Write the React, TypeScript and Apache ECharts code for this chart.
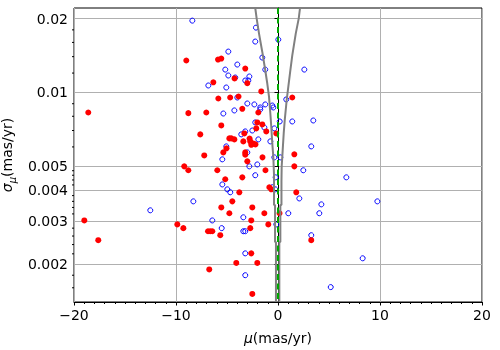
import { useEffect, useRef } from 'react';
import * as echarts from 'echarts';

const FONT = 'DejaVu Sans';

const xRange = [-20, 20];
const xTickStep = 10;
const yRange = [0.0014, 0.0221];
const yTickValues = [0.002, 0.003, 0.004, 0.005, 0.01, 0.02];
const yMinorTickValues = [0.0016, 0.0018, 0.0022, 0.0024, 0.0026, 0.0028, 0.0032, 0.0034, 0.0036, 0.0038, 0.0042, 0.0044, 0.0046, 0.0048, 0.006, 0.007, 0.008, 0.009, 0.012, 0.014, 0.016, 0.018];

const redMu = [-18.6, -8.99, -5.88, -5.56, -3.21, -6.34, -4.26, -3.01, -1.64, -5.85, -4.69, -3.87, 1.40, -3.50, -8.79, -7.03, -1.93, -2.03, -1.54, -2.13, -1.15, -0.17, -5.56, -7.62, -4.77, -4.58, -4.28, -3.30, -3.40, -2.79, -2.72, -2.40, -2.21, -2.62, -5.05, -5.36, -7.23, -3.21, -3.21, -1.52, 1.60, -3.01, -9.19, -8.79, -5.95, -1.23, 1.60, -3.50, -5.17, -3.79, 1.79, -0.85, -0.66, -4.48, -5.56, -2.52, -4.77, -1.34, 0.15, -2.62, -0.95, -9.28, -9.87, -6.86, -6.64, -6.44, -5.66, -2.72, 3.26, -18.99, -17.62, -2.62, -4.09, -2.03, -6.74, -2.52];
const redSigma = [0.00829, 0.0135, 0.01362, 0.01375, 0.01252, 0.0110, 0.01141, 0.01091, 0.0101, 0.00945, 0.00954, 0.00963, 0.00954, 0.00858, 0.00824, 0.00829, 0.00829, 0.00755, 0.00741, 0.00714, 0.00694, 0.00681, 0.00734, 0.00675, 0.0065, 0.0065, 0.00644, 0.00681, 0.00632, 0.00649, 0.00632, 0.00619, 0.00614, 0.00612, 0.00592, 0.0057, 0.00554, 0.0057, 0.00558, 0.00544, 0.0056, 0.00524, 0.0050, 0.00482, 0.00482, 0.00482, 0.0050, 0.00451, 0.00443, 0.00392, 0.00392, 0.00411, 0.00403, 0.0036, 0.0034, 0.0034, 0.00322, 0.00322, 0.00322, 0.00301, 0.0029, 0.0028, 0.0029, 0.00272, 0.00272, 0.00272, 0.00262, 0.0028, 0.0025, 0.00301, 0.0025, 0.00221, 0.00202, 0.00202, 0.0019, 0.00151];

const blueMu = [-8.40, -2.16, 0.03, -2.23, -4.87, -1.54, -3.99, -5.17, -1.25, 2.58, -4.87, -4.19, -2.81, -3.21, -2.91, -6.83, -5.07, -3.99, 0.81, -3.01, -2.32, -1.74, -1.74, -1.25, -0.56, -0.46, -5.36, -4.28, 0.17, 1.40, 3.46, -2.23, -2.52, -1.34, -0.36, -3.21, -3.60, -1.93, -0.75, -5.07, -5.46, -3.01, -0.36, 0.23, 3.26, -2.81, -2.03, 2.48, -2.23, -0.23, 6.70, -5.46, -4.97, -4.68, -0.56, -0.26, 2.09, 4.25, 9.74, -8.30, -3.40, -6.44, 1.01, 4.05, -5.52, -3.40, -3.21, 3.26, -3.21, 8.30, -3.21, 5.17, -12.52, -0.17];
const blueSigma = [0.01963, 0.01838, 0.01643, 0.01613, 0.01468, 0.01388, 0.0130, 0.0124, 0.0124, 0.0124, 0.01173, 0.01151, 0.01162, 0.01119, 0.01119, 0.01068, 0.01048, 0.00954, 0.00937, 0.00902, 0.00894, 0.00869, 0.00853, 0.00894, 0.00885, 0.00869, 0.00821, 0.00845, 0.00762, 0.00762, 0.00769, 0.00755, 0.0070, 0.0072, 0.00714, 0.00694, 0.00675, 0.00644, 0.00632, 0.00603, 0.00534, 0.0057, 0.00544, 0.00544, 0.00603, 0.0050, 0.00509, 0.00482, 0.0046, 0.00451, 0.00451, 0.00422, 0.00403, 0.00392, 0.00411, 0.00403, 0.0037, 0.0035, 0.0036, 0.0036, 0.0031, 0.00301, 0.00322, 0.00322, 0.0028, 0.00272, 0.00272, 0.00262, 0.00221, 0.00211, 0.0018, 0.00161, 0.00331, 0.0029];

const leftCurveMu = [-2.23, -2.09, -1.86, -1.54, -1.25, -1.05, -0.88, -0.75, -0.66, -0.56, -0.46, -0.39, -0.39, -0.29, -0.29, -0.20, -0.20];
const leftCurveSigma = [0.0221, 0.02, 0.01738, 0.01463, 0.01232, 0.01088, 0.0096, 0.00821, 0.00725, 0.0062, 0.00547, 0.00461, 0.00348, 0.00348, 0.00246, 0.00246, 0.0014];
const rightCurveMu = [2.16, 2.03, 1.74, 1.40, 1.21, 1.01, 0.85, 0.66, 0.56, 0.46, 0.36, 0.34, 0.34, 0.23, 0.23, 0.13, 0.13];
const rightCurveSigma = [0.0221, 0.02, 0.01738, 0.01418, 0.01232, 0.01054, 0.0093, 0.00771, 0.00681, 0.00582, 0.00498, 0.00432, 0.00348, 0.00348, 0.00246, 0.00246, 0.0014];

const refMu = 0;

const lg = (v: number) => Math.log10(v);
const pairs = (xs: number[], ys: number[]) => xs.map((x, i) => [x, lg(ys[i])]);

export default function App() {
  const ref = useRef<HTMLDivElement>(null);
  useEffect(() => {
    if (!ref.current) return;
    const chart = echarts.init(ref.current, undefined, { renderer: 'svg' });
    const tickFmt = (v: number) => {
      let best = yTickValues[0];
      for (const t of yTickValues) if (Math.abs(lg(t) - v) < Math.abs(lg(best) - v)) best = t;
      return String(best);
    };
    chart.setOption({
      animation: false,
      grid: { left: 74, right: 18, top: 8, bottom: 48, show: true, borderColor: '#000', borderWidth: 1, backgroundColor: 'transparent', outerBoundsMode: 'none', containLabel: false },
      xAxis: {
        type: 'value',
        min: xRange[0],
        max: xRange[1],
        interval: xTickStep,
        name: '{i|μ}(mas/yr)',
        nameLocation: 'middle',
        nameGap: 29,
        nameTextStyle: { fontFamily: FONT, fontSize: 14, color: '#000', rich: { i: { fontFamily: FONT, fontSize: 14, fontStyle: 'italic', color: '#000' } } },
        axisLine: { show: true, lineStyle: { color: '#000', width: 1 } },
        axisTick: { show: true, length: 3.5, lineStyle: { color: '#000' } },
        minorTick: { show: true, splitNumber: 10, length: 2, lineStyle: { color: '#000' } },
        axisLabel: { fontFamily: FONT, fontSize: 14, color: '#000', margin: 6, formatter: (v: number) => (v < 0 ? '\u2212' + Math.abs(v) : String(v)) },
        splitLine: { show: true, lineStyle: { color: '#b0b0b0', width: 1 } },
      },
      yAxis: {
        type: 'value',
        min: lg(yRange[0]),
        max: lg(yRange[1]),
        name: '{i|σ}{s|μ}(mas/yr)',
        nameLocation: 'middle',
        nameGap: 48,
        nameRotate: 90,
        nameTextStyle: {
          fontFamily: FONT, fontSize: 14, color: '#000', lineHeight: 20,
          rich: {
            i: { fontFamily: FONT, fontSize: 14, fontStyle: 'italic', color: '#000', lineHeight: 20 },
            s: { fontFamily: FONT, fontSize: 10, fontStyle: 'italic', color: '#000', lineHeight: 10, verticalAlign: 'bottom' },
          },
        },
        axisLine: { show: true, lineStyle: { color: '#000', width: 1 } },
        axisTick: { show: true, length: 3.5, lineStyle: { color: '#000' }, customValues: yTickValues.map(lg) },
        axisLabel: { fontFamily: FONT, fontSize: 14, color: '#000', margin: 6, customValues: yTickValues.map(lg), formatter: tickFmt },
        splitLine: { show: true, lineStyle: { color: '#b0b0b0', width: 1 } },
      },
      series: [
        {
          type: 'custom',
          coordinateSystem: 'cartesian2d',
          silent: true,
          clip: false,
          data: yMinorTickValues.map((v) => [xRange[0], lg(v)]),
          encode: { x: 0, y: 1 },
          renderItem: (_p: any, api: any) => {
            const p = api.coord([api.value(0), api.value(1)]);
            return { type: 'line', shape: { x1: p[0] - 2, y1: p[1], x2: p[0], y2: p[1] }, style: { stroke: '#000', lineWidth: 1 } };
          },
          z: 5,
        },
        {
          type: 'scatter',
          data: pairs(blueMu, blueSigma),
          symbol: 'circle',
          symbolSize: 5,
          itemStyle: { color: 'rgba(0,0,0,0)', borderColor: '#0000ff', borderWidth: 1, opacity: 1 },
          z: 2,
        },
        {
          type: 'scatter',
          data: pairs(redMu, redSigma),
          symbol: 'circle',
          symbolSize: 6,
          itemStyle: { color: '#ff0000', opacity: 1 },
          z: 3,
        },
        {
          type: 'line',
          data: pairs(leftCurveMu, leftCurveSigma),
          showSymbol: false,
          symbol: 'none',
          lineStyle: { color: '#808080', width: 2 },
          z: 4,
        },
        {
          type: 'line',
          data: pairs(rightCurveMu, rightCurveSigma),
          showSymbol: false,
          symbol: 'none',
          lineStyle: { color: '#808080', width: 2 },
          z: 4,
        },
        {
          type: 'custom',
          coordinateSystem: 'cartesian2d',
          silent: true,
          data: [[refMu, lg(yRange[1]), lg(yRange[0])]],
          encode: { x: 0, y: [1, 2] },
          renderItem: (_p: any, api: any) => {
            const a = api.coord([api.value(0), api.value(1)]);
            const b = api.coord([api.value(0), api.value(2)]);
            return {
              type: 'line',
              shape: { x1: a[0], y1: a[1], x2: b[0], y2: b[1] },
              style: { stroke: '#00a800', lineWidth: 2, lineDash: [6, 3.5] },
            };
          },
          z: 6,
        },
      ],
    });
    return () => chart.dispose();
  }, []);
  return <div ref={ref} style={{ position: 'fixed', left: 0, top: 0, width: 500, height: 350 }} />;
}
